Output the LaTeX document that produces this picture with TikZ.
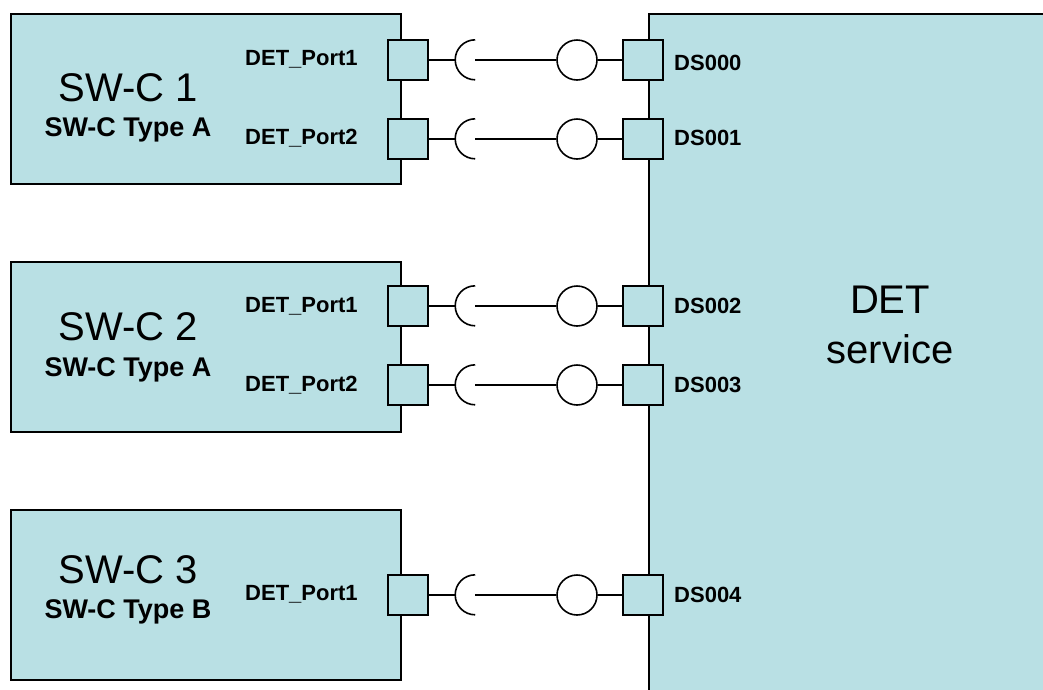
\documentclass[tikz,border=0pt]{standalone}
\usepackage{fontspec}
\setmainfont{Liberation Sans}
\usetikzlibrary{positioning}
\definecolor{Aqua}{HTML}{B9E0E4}

\begin{document}
\begin{tikzpicture}[x=1pt, y=-1pt,
  comp/.style={draw, line width=1.6pt, fill=Aqua, minimum width=390pt,
               minimum height=170pt, inner sep=0pt},
  port/.style={draw, line width=1.6pt, fill=Aqua, minimum size=40pt, inner sep=0pt},
  ball/.style={draw, line width=1.6pt, circle, fill=white, minimum size=40pt, inner sep=0pt},
  sock/.style={minimum width=20pt, minimum height=40pt, inner sep=0pt},
  conn/.style={line width=1.4pt},
  title/.style={font=\fontsize{40}{50}\selectfont, align=center, inner sep=0pt},
  ctype/.style={font=\bfseries\fontsize{27}{30}\selectfont, inner sep=0pt},
  plabel/.style={font=\bfseries\fontsize{22}{26}\selectfont, inner sep=0pt, anchor=west},
]
\clip (0,0) rectangle (1043,689);
% components and service
\node[comp] (swc1) at (206,99) {};
\node[comp] (swc2) at (206,347) {};
\node[comp] (swc3) at (206,595) {};
\node[draw, line width=1.6pt, fill=Aqua, minimum width=451pt, minimum height=706pt,
      inner sep=0pt] (det) at (874.5,367) {};
\node[title] (dett) at (890,325) {DET\\service};
\node[title] (t1) at (128,88) {SW-C 1};
\node[ctype] (y1) at (128,130) {SW-C Type A};
\node[title] (t2) at (128,327) {SW-C 2};
\node[ctype] (y2) at (128,370) {SW-C Type A};
\node[title] (t3) at (128,570) {SW-C 3};
\node[ctype] (y3) at (128,612) {SW-C Type B};
% ports
\node[port] (p1) at (408,60) {};
\node[port] (p2) at (408,139) {};
\node[port] (p3) at (408,306) {};
\node[port] (p4) at (408,385) {};
\node[port] (p5) at (408,595) {};
\node[port] (d1) at (643,60) {};
\node[port] (d2) at (643,139) {};
\node[port] (d3) at (643,306) {};
\node[port] (d4) at (643,385) {};
\node[port] (d5) at (643,595) {};
\node[plabel] (l1) at (245,59) {DET\_Port1};
\node[plabel] (l2) at (245,138) {DET\_Port2};
\node[plabel] (l3) at (245,306) {DET\_Port1};
\node[plabel] (l4) at (245,385) {DET\_Port2};
\node[plabel] (l5) at (245,594) {DET\_Port1};
\node[plabel] (k1) at (674,63) {DS000};
\node[plabel] (k2) at (674,138) {DS001};
\node[plabel] (k3) at (674,306) {DS002};
\node[plabel] (k4) at (674,385) {DS003};
\node[plabel] (k5) at (674,595) {DS004};
% assembly connectors
\foreach \i/\y in {1/60, 2/139, 3/306, 4/385, 5/595} {
  \node[sock] (s\i) at (465,\y) {};
  \node[ball] (b\i) at (577,\y) {};
  \draw[conn] (p\i.east) -- (s\i.west);
  \draw[line width=1.6pt] (s\i.north east) arc[start angle=90, end angle=270, radius=20pt];
  \draw[conn] (s\i.east) -- (b\i.west);
  \draw[conn] (b\i.east) -- (d\i.west);
}
\end{tikzpicture}
\end{document}
